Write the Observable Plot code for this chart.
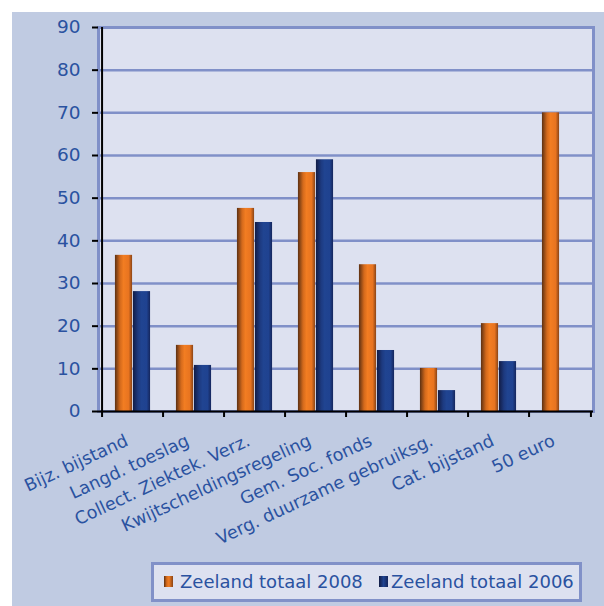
<!DOCTYPE html>
<html><head><meta charset="utf-8">
<script src="https://cdn.jsdelivr.net/npm/d3@7"></script>
<script src="https://cdn.jsdelivr.net/npm/@observablehq/plot@0.6"></script>
<style>
html,body{margin:0;padding:0;background:#ffffff;}
#wrap{position:absolute;left:12px;top:12px;width:592px;height:594px;background:#c0cbe2;font-family:"DejaVu Sans",Verdana,sans-serif;}
#chart{position:absolute;left:0;top:0;}
#legend{position:absolute;left:139px;top:550px;width:431px;height:40px;box-sizing:border-box;border:3px solid #8191c8;background:#dde1f0;}
.sw{position:absolute;top:11px;width:9px;height:11px;}
.lt{position:absolute;top:0;height:34px;line-height:34px;font-size:18px;color:#2a52a0;white-space:nowrap;}
</style>
</head><body>
<div id="wrap"><div id="chart"></div><div id="legend"></div></div>
<script>
const categories = ["Bijz. bijstand","Langd. toeslag","Collect. Ziektek. Verz.","Kwijtscheldingsregeling","Gem. Soc. fonds","Verg. duurzame gebruiksg.","Cat. bijstand","50 euro"];
const values2008 = [36.6, 15.5, 47.6, 56.0, 34.4, 10.1, 20.6, 70.0];
const values2006 = [28.1, 10.8, 44.3, 59.0, 14.3, 4.9, 11.7, null];
const seriesNames = ["Zeeland totaal 2008", "Zeeland totaal 2006"];
const yTicks = [0, 10, 20, 30, 40, 50, 60, 70, 80, 90];

const W = 592, H = 540, mL = 86, mR = 11, mT = 15, mB = 141;
const bw = (W - mL - mR) / categories.length;
const barW = 18;
const textColor = "#2a52a0";

const d2008 = categories.map((c, i) => ({cat: c, v: values2008[i]}));
const d2006 = categories.map((c, i) => ({cat: c, v: values2006[i]})).filter(d => d.v != null);

const defs = () => {
  const g = d3.create("svg:defs");
  const o = g.append("linearGradient").attr("id", "gOr").attr("x1", 0).attr("x2", 1).attr("y1", 0).attr("y2", 0);
  [[0, "#5c3012"], [0.3, "#d46a1c"], [0.5, "#f27d22"], [0.8, "#e87420"], [1, "#8a4416"]].forEach(([off, col]) => o.append("stop").attr("offset", off).attr("stop-color", col));
  const b = g.append("linearGradient").attr("id", "gBl").attr("x1", 0).attr("x2", 1).attr("y1", 0).attr("y2", 0);
  [[0, "#121c45"], [0.3, "#1d3a80"], [0.5, "#204491"], [0.8, "#1f4290"], [1, "#15265c"]].forEach(([off, col]) => b.append("stop").attr("offset", off).attr("stop-color", col));
  return g.node();
};

const plot = Plot.plot({
  width: W, height: H,
  marginLeft: mL, marginRight: mR, marginTop: mT, marginBottom: mB,
  style: {fontFamily: "DejaVu Sans, Verdana, sans-serif", fontSize: "18px", background: "transparent", overflow: "visible"},
  x: {domain: categories, padding: 0, axis: null, label: null},
  y: {domain: [0, 90], axis: null, label: null},
  marks: [
    defs,
    Plot.frame({fill: "#dde1f0"}),
    Plot.gridY(yTicks, {stroke: "#8090c8", strokeOpacity: 1, strokeWidth: 2.5}),
    Plot.frame({stroke: "#8090c8", strokeWidth: 3}),
    Plot.barY(d2008, {x: "cat", y: "v", fill: "url(#gOr)", insetLeft: bw / 2 - barW, insetRight: bw / 2}),
    Plot.barY(d2006, {x: "cat", y: "v", fill: "url(#gBl)", insetLeft: bw / 2, insetRight: bw / 2 - barW}),
    Plot.ruleY([0], {stroke: "black", strokeWidth: 2}),
    Plot.ruleX([categories[0]], {x: d => d, dx: -bw / 2, stroke: "black", strokeWidth: 2}),
    Plot.axisX({ticks: categories, tickSize: 6, dx: -bw / 2, tickFormat: () => "", stroke: "black", strokeWidth: 2}),
    Plot.axisX({ticks: [categories[categories.length - 1]], tickSize: 6, dx: bw / 2, tickFormat: () => "", stroke: "black", strokeWidth: 2}),
    Plot.axisY({ticks: yTicks, tickSize: 6, tickPadding: 12, stroke: "black", strokeWidth: 2, fill: textColor, fontSize: 18.5, label: null}),
    Plot.text(categories, {x: d => d, frameAnchor: "bottom", text: d => d, rotate: -25, textAnchor: "end", lineAnchor: "top", dy: 22, dx: -9, fill: textColor, fontSize: 17.5})
  ]
});
document.getElementById("chart").appendChild(plot);

const legend = document.getElementById("legend");
const items = [
  {name: seriesNames[0], grad: "linear-gradient(to right,#5c3012,#d46a1c 30%,#f27d22 55%,#8a4416)", sw: 10, tx: 26},
  {name: seriesNames[1], grad: "linear-gradient(to right,#121c45,#204491 50%,#15265c)", sw: 225, tx: 237}
];
items.forEach(it => {
  const s = document.createElement("div");
  s.className = "sw"; s.style.left = it.sw + "px"; s.style.background = it.grad;
  legend.appendChild(s);
  const t = document.createElement("div");
  t.className = "lt"; t.style.left = it.tx + "px"; t.textContent = it.name;
  legend.appendChild(t);
});
</script>
</body></html>
